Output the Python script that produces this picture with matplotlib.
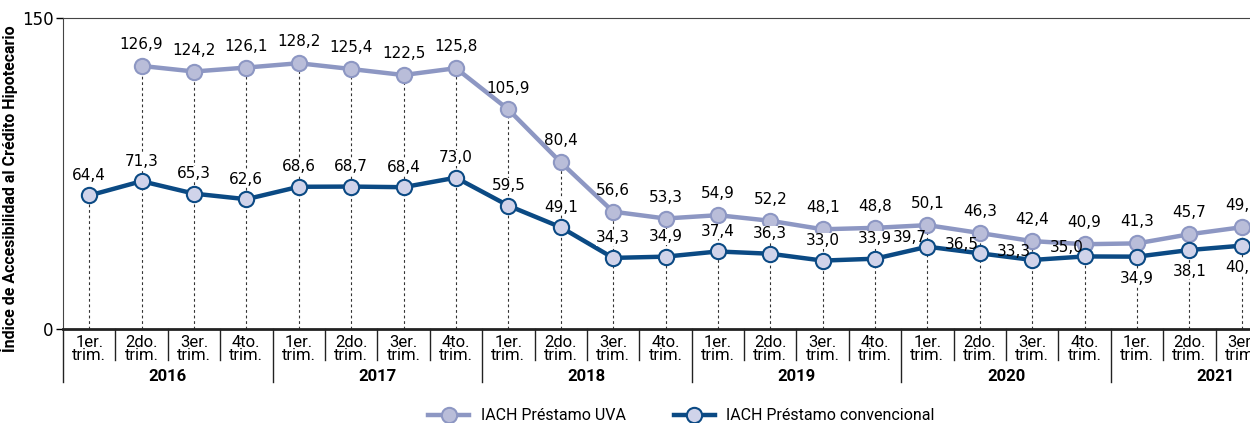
import matplotlib
matplotlib.use("Agg")
import matplotlib.pyplot as plt
import matplotlib.transforms as mtransforms
import numpy as np

plt.rcParams['font.family'] = ['DejaVu Sans']

# datos
anios = ['2016', '2017', '2018', '2019', '2020', '2021']
trimestres = ['1er.\ntrim.', '2do.\ntrim.', '3er.\ntrim.', '4to.\ntrim.']
n_trim_anio = [4, 4, 4, 4, 4, 3]
uva = [np.nan, 126.9, 124.2, 126.1, 128.2, 125.4, 122.5, 125.8, 105.9, 80.4, 56.6, 53.3,
       54.9, 52.2, 48.1, 48.8, 50.1, 46.3, 42.4, 40.9, 41.3, 45.7, 49.1]
conv = [64.4, 71.3, 65.3, 62.6, 68.6, 68.7, 68.4, 73.0, 59.5, 49.1, 34.3, 34.9,
        37.4, 36.3, 33.0, 33.9, 39.7, 36.5, 33.3, 35.0, 34.9, 38.1, 40.2]

c_uva = '#8d97c3'
c_uva_fill = '#b9bdd9'
c_conv = '#0b4a84'
c_conv_fill = '#d0d3ea'
fnarrow = ['Roboto', 'DejaVu Sans']

x = np.arange(len(conv))

fig = plt.figure(figsize=(12.5, 4.23), dpi=100)
ax = fig.add_axes([0.0504, 0.2222, 0.964, 0.7352])
ax.set_xlim(-0.5, 22.5)
ax.set_ylim(0, 150)

# lineas punteadas verticales
for i in x:
    top = np.nanmax([uva[i], conv[i]])
    ax.plot([i, i], [0, top], color='#333333', lw=0.8, ls=(0, (2.5, 2.5)), zorder=1)

ax.plot(x, uva, color=c_uva, lw=3.2, marker='o', ms=11, mfc=c_uva_fill, mec=c_uva,
        mew=1.5, zorder=3, label='IACH Préstamo UVA')
ax.plot(x, conv, color=c_conv, lw=3.2, marker='o', ms=11, mfc=c_conv_fill, mec=c_conv,
        mew=1.5, zorder=4, label='IACH Préstamo convencional')

fs = 11
bb = dict(facecolor='white', edgecolor='none', pad=0.3)
for i in x:
    if not np.isnan(uva[i]):
        ax.annotate(f"{uva[i]:.1f}".replace('.', ','), (i, uva[i]), xytext=(0, 10),
                    textcoords='offset points', ha='center', va='bottom', fontsize=fs, zorder=5)
    lab = f"{conv[i]:.1f}".replace('.', ',')
    box = bb
    if 16 <= i <= 19:
        off, va = (-13, 1), 'bottom'
        box = None
    elif i >= 20:
        off, va = (0, -10), 'top'
    else:
        off, va = (0, 9), 'bottom'
    ax.annotate(lab, (i, conv[i]), xytext=off, textcoords='offset points',
                ha='center', va=va, fontsize=fs, zorder=5, bbox=box)

# ejes
ax.set_yticks([0, 150])
ax.set_yticklabels(['0', '150'], fontsize=12)
ax.tick_params(axis='y', length=5, width=1, pad=2)
ax.set_xticks([])
ax.spines['right'].set_visible(False)
ax.spines['bottom'].set_linewidth(2)
ax.spines['left'].set_color('#444444')
ax.spines['top'].set_color('#444444')
ax.spines['bottom'].set_color('#222222')

ax.set_ylabel('Índice de Accesibilidad al Crédito Hipotecario', fontsize=11.5,
              fontweight='bold', family=fnarrow)
ax.yaxis.set_label_coords(-0.037, 0.45)

# eje de categorias
trans = mtransforms.blended_transform_factory(ax.transData, ax.transAxes)
k = 0
for j, anio in enumerate(anios):
    ax.plot([k - 0.5, k - 0.5], [0, -0.17], transform=trans, color='#222222', lw=1, clip_on=False)
    for q in range(n_trim_anio[j]):
        ax.text(k + q, -0.064, trimestres[q], transform=trans, ha='center', va='center',
                fontsize=12, linespacing=0.78, family=fnarrow)
        if q > 0:
            ax.plot([k + q - 0.5, k + q - 0.5], [0, -0.1], transform=trans, color='#222222',
                    lw=1, clip_on=False)
    ax.text(k + 1.5, -0.154, anio, transform=trans, ha='center', va='center',
            fontsize=12, fontweight='bold', family=fnarrow)
    k += n_trim_anio[j]

fig.legend(loc='lower center', bbox_to_anchor=(0.545, -0.035), ncol=2, frameon=False,
           prop={'family': fnarrow, 'size': 11.5}, handlelength=2.6, columnspacing=3.0,
           handletextpad=0.7)

fig.savefig('out.png', dpi=100)
